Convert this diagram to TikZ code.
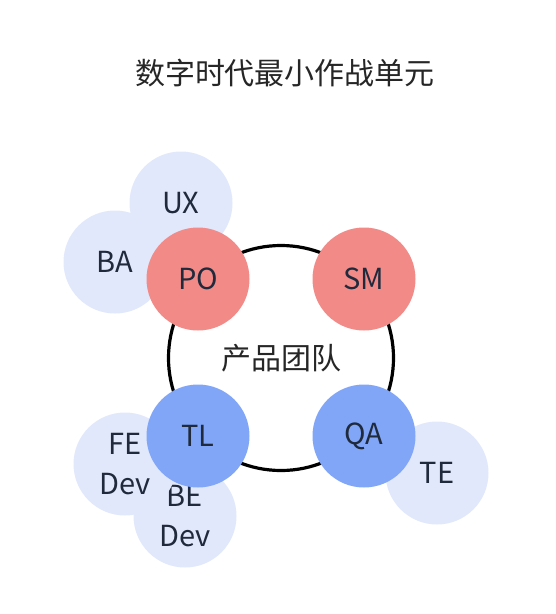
\documentclass[tikz,border=0pt]{standalone}
\usepackage{fontspec}
\setmainfont{Noto Sans CJK SC}
\usepackage{tikz}

\definecolor{bubblefill}{HTML}{E1E8FB}
\definecolor{pofill}{HTML}{F28A88}
\definecolor{tlfill}{HTML}{81A6F8}
\definecolor{inktext}{HTML}{1F2A3C}
\definecolor{titletext}{HTML}{262626}

\begin{document}
\begin{tikzpicture}[
  x=1pt, y=-1pt,
  font=\fontsize{29}{40}\selectfont,
  disc/.style={circle, inner sep=0pt, minimum size=103pt, align=center, text=inktext},
  bubble/.style={disc, fill=bubblefill},
  lead/.style={disc, fill=pofill},
  tech/.style={disc, fill=tlfill},
  team/.style={circle, draw=black, line width=3.2pt, inner sep=0pt, minimum size=225pt}
]
  \useasboundingbox (0,0) rectangle (556,614);
  \node[font=\fontsize{30}{34}\selectfont, text=titletext] (title) at (285,73) {数字时代最小作战单元};

  % supporting roles
  \node[bubble] (ux) at (181,203) {UX};
  \node[bubble] (ba) at (115,262) {BA};
  \node[bubble] (be) at (185,516) {BE\\Dev};
  \node[bubble] (fe) at (125,464) {FE\\Dev};
  \node[bubble] (te) at (437,473) {TE};

  % core team
  \node[team, font=\fontsize{30}{34}\selectfont, text=titletext] (core) at (281,358) {产品团队};
  \node[lead] (po) at (198,279) {PO};
  \node[lead] (sm) at (364,279) {SM};
  \node[tech] (tl) at (198,436) {TL};
  \node[tech] (qa) at (364,436) {QA};
\end{tikzpicture}
\end{document}
